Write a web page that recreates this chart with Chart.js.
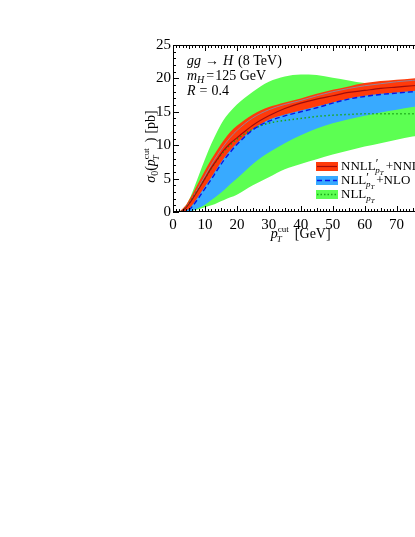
<!DOCTYPE html>
<html>
<head>
<meta charset="utf-8">
<script src="https://cdn.jsdelivr.net/npm/chart.js@4.4.1/dist/chart.umd.min.js"></script>
<style>
  html, body { margin: 0; padding: 0; background: #fff; overflow: hidden; }
  #wrap { position: absolute; left: 0; top: 0; width: 440px; height: 260px; }
</style>
</head>
<body>
<div id="wrap"><canvas id="sigmac" width="440" height="260"></canvas></div>
<script>
// data (pT cut in GeV, sigma_0 in pb)

var pTcut = [0, 2, 3, 4, 5, 6, 8, 10, 12, 14, 16, 18, 20, 25, 30, 35, 40, 45, 50, 55, 60, 65, 70, 75, 80];

var nnllCentral = [0, 0, 0.2, 0.6, 1.2, 1.9, 3.4, 5.0, 6.6, 8.0, 9.3, 10.3, 11.1, 13.0, 14.4, 15.5, 16.3, 16.9, 17.4, 17.9, 18.2, 18.5, 18.7, 18.9, 19.1];
var nnllUp = [0, 0.1, 0.5, 1.0, 1.8, 2.6, 4.4, 6.2, 7.9, 9.4, 10.8, 12.0, 12.9, 14.6, 15.7, 16.4, 17.0, 17.7, 18.3, 18.8, 19.3, 19.6, 19.8, 20.0, 20.2];
var nnllDown = [0, 0, 0, 0.2, 0.5, 1.0, 2.4, 3.8, 5.2, 6.7, 8.1, 9.3, 10.3, 12.4, 13.8, 14.6, 15.2, 15.8, 16.4, 17.0, 17.4, 17.7, 17.9, 18.1, 18.3];

var nllpCentral = [0, 0, 0, 0.1, 0.3, 0.8, 2.1, 3.5, 4.9, 6.4, 7.8, 9.0, 10.1, 12.3, 13.6, 14.4, 15.0, 15.6, 16.3, 16.9, 17.3, 17.6, 17.8, 18.0, 18.2];
var nllpUp = [0, 0, 0.2, 0.6, 1.3, 2.0, 3.7, 5.4, 7.1, 8.6, 10.0, 11.2, 12.2, 14.1, 15.3, 16.1, 16.7, 17.4, 18.0, 18.5, 18.9, 19.2, 19.5, 19.7, 19.9];
var nllpDown = [0, 0, 0, 0, 0.1, 0.2, 0.6, 1.1, 1.8, 2.5, 3.3, 4.2, 5.0, 7.2, 8.9, 10.3, 11.5, 12.5, 13.3, 13.9, 14.4, 14.9, 15.3, 15.7, 16.0];

var nllCentral = [0, 0, 0.2, 0.7, 1.3, 2.0, 3.5, 5.0, 6.5, 7.9, 9.1, 10.1, 10.9, 12.4, 13.3, 13.7, 14.0, 14.3, 14.5, 14.6, 14.7, 14.7, 14.7, 14.7, 14.7];
var nllUp = [0, 0, 0.3, 0.8, 1.8, 2.9, 5.4, 7.9, 10.2, 12.2, 13.9, 15.1, 16.1, 18.0, 19.5, 20.3, 20.6, 20.5, 20.1, 19.7, 19.3, 19.0, 18.8, 18.6, 18.5];
var nllDown = [0, 0, 0, 0, 0.1, 0.2, 0.4, 0.7, 1.0, 1.4, 1.8, 2.2, 2.6, 4.0, 5.2, 6.4, 7.2, 7.9, 8.6, 9.2, 9.8, 10.3, 10.8, 11.3, 11.6];

var xTicks = [0, 10, 20, 30, 40, 50, 60, 70, 80];
var yTicks = [0, 5, 10, 15, 20, 25];

var SERIF = '"Liberation Serif", "DejaVu Serif", serif';

function pts(vals) {
	return vals.map(function(v, i) { return {x: pTcut[i], y: v}; });
}

// draws a run of text pieces with their own font and vertical shift
function richWidth(ctx, parts) {
	var w = 0;
	parts.forEach(function(p) { ctx.font = p.f; w += ctx.measureText(p.t).width + (p.sp || 0); });
	return w;
}
function richText(ctx, x, y, parts) {
	parts.forEach(function(p) {
		ctx.font = p.f;
		ctx.fillText(p.t, x, y + (p.dy || 0));
		x += ctx.measureText(p.t).width + (p.sp || 0);
	});
	return x;
}

var rm = function(s) { return s + 'px ' + SERIF; };
var it = function(s) { return 'italic ' + s + 'px ' + SERIF; };

// frame, inward ticks, labels, legend
var decor = {
	id: 'decor',
	afterDraw: function(chart) {
		var ctx = chart.ctx, a = chart.chartArea;
		var xs = chart.scales.x, ys = chart.scales.y;
		ctx.save();
		ctx.strokeStyle = '#000';
		ctx.fillStyle = '#000';
		ctx.lineWidth = 1;
		ctx.strokeRect(a.left + 0.5, a.top + 0.5, a.right - a.left - 1, a.bottom - a.top - 1);

		ctx.beginPath();
		for (var gx = 0; gx <= 80; gx++) {
			var px = Math.round(xs.getPixelForValue(gx)) + 0.5;
			var len = gx % 10 === 0 ? 6 : (gx % 5 === 0 ? 4 : 3);
			ctx.moveTo(px, a.bottom); ctx.lineTo(px, a.bottom - len);
			ctx.moveTo(px, a.top); ctx.lineTo(px, a.top + len);
		}
		for (var gy = 0; gy <= 25; gy++) {
			var py = Math.round(ys.getPixelForValue(gy)) + 0.5;
			var l2 = gy % 5 === 0 ? 6 : 3;
			ctx.moveTo(a.left, py); ctx.lineTo(a.left + l2, py);
			ctx.moveTo(a.right, py); ctx.lineTo(a.right - l2, py);
		}
		ctx.stroke();

		ctx.textBaseline = 'alphabetic';
		ctx.textAlign = 'left';

		// process text
		var tx = a.left + 14, ty = a.top + 20;
		richText(ctx, tx, ty, [
			{t: 'gg', f: it(14), sp: 4},
			{t: '→', f: rm(14), sp: 4},
			{t: 'H', f: it(14), sp: 5},
			{t: '(8 TeV)', f: rm(14)}
		]);
		richText(ctx, tx, ty + 15, [
			{t: 'm', f: it(14)},
			{t: 'H', f: it(10), dy: 3, sp: 2},
			{t: '=', f: rm(14), sp: 1},
			{t: '125 GeV', f: rm(14)}
		]);
		richText(ctx, tx, ty + 30, [
			{t: 'R', f: it(14), sp: 4},
			{t: '=', f: rm(14), sp: 4},
			{t: '0.4', f: rm(14)}
		]);

		// x title
		var xt = [
			{t: 'p', f: it(14)},
			{t: 'cut', f: rm(9), dy: -6, sp: -12},
			{t: 'T', f: it(9), dy: 4, sp: 13},
			{t: '[GeV]', f: rm(14)}
		];
		var xw = richWidth(ctx, xt);
		richText(ctx, (a.left + a.right) / 2 - xw / 2, a.bottom + 26, xt);

		// y title
		ctx.save();
		ctx.translate(a.left - 18, (a.top + a.bottom) / 2 + 18);
		ctx.rotate(-Math.PI / 2);
		var yt = [
			{t: 'σ', f: it(14)},
			{t: '0', f: rm(10), dy: 3},
			{t: '(', f: rm(14)},
			{t: 'p', f: it(14)},
			{t: 'cut', f: rm(9), dy: -6, sp: -12},
			{t: 'T', f: it(9), dy: 4, sp: 13},
			{t: ')', f: rm(14), sp: 4},
			{t: '[pb]', f: rm(14)}
		];
		var yw = richWidth(ctx, yt);
		richText(ctx, -yw / 2, 0, yt);
		ctx.restore();

		// legend
		var lx = a.left + 143, rows = [a.top + 117, a.top + 131, a.top + 145];
		var bw = 22, bh = 9;
		var lg = [
			{fill: '#ff3a0a', line: '#a00c0c', dash: [], w: 1.2, txt: [
				{t: 'NNLL', f: rm(13)}, {t: '′', f: rm(12), dy: -3, sp: -3},
				{t: 'p', f: it(9), dy: 3}, {t: 'T', f: it(7), dy: 5, sp: 2}, {t: '+NNLO', f: rm(13)}]},
			{fill: '#38aaff', line: '#0a14e6', dash: [5, 3], w: 1.4, txt: [
				{t: 'NLL', f: rm(13)}, {t: '′', f: rm(12), dy: -3, sp: -3},
				{t: 'p', f: it(9), dy: 3}, {t: 'T', f: it(7), dy: 5, sp: 2}, {t: '+NLO', f: rm(13)}]},
			{fill: '#5cff52', line: '#1aa81a', dash: [1.5, 2], w: 1.5, txt: [
				{t: 'NLL', f: rm(13)}, {t: 'p', f: it(9), dy: 3}, {t: 'T', f: it(7), dy: 5}]}
		];
		lg.forEach(function(e, i) {
			var top = rows[i];
			ctx.fillStyle = e.fill;
			ctx.fillRect(lx, top, bw, bh);
			ctx.strokeStyle = e.line;
			ctx.lineWidth = e.w;
			ctx.setLineDash(e.dash);
			ctx.beginPath();
			ctx.moveTo(lx + 1, top + bh / 2);
			ctx.lineTo(lx + bw - 1, top + bh / 2);
			ctx.stroke();
			ctx.setLineDash([]);
			ctx.fillStyle = '#000';
			richText(ctx, lx + bw + 3, top + bh - 1, e.txt);
		});
		ctx.restore();
	}
};

new Chart("sigmac", {
	type: "line",
	data: {
		datasets: [
			{data: pts(nnllCentral), borderColor: "#a00c0c", borderWidth: 1.2, order: 0},
			{data: pts(nllpCentral), borderColor: "#0a14e6", borderWidth: 1.4, borderDash: [5, 3], order: 1},
			{data: pts(nllCentral), borderColor: "#1aa81a", borderWidth: 1.5, borderDash: [1.5, 2.5], order: 2},
			{data: pts(nllpUp), borderColor: "rgba(120,150,190,0.8)", borderWidth: 1, order: 3},
			{data: pts(nnllUp), borderWidth: 0, borderColor: "rgba(0,0,0,0)", backgroundColor: "#ff3a0a", fill: 5, order: 4},
			{data: pts(nnllDown), borderWidth: 0, borderColor: "rgba(0,0,0,0)", order: 5},
			{data: pts(nllpUp), borderWidth: 0, borderColor: "rgba(0,0,0,0)", backgroundColor: "#38aaff", fill: 7, order: 6},
			{data: pts(nllpDown), borderWidth: 0, borderColor: "rgba(0,0,0,0)", order: 7},
			{data: pts(nllUp), borderWidth: 0, borderColor: "rgba(0,0,0,0)", backgroundColor: "#5cff52", fill: 9, order: 8},
			{data: pts(nllDown), borderWidth: 0, borderColor: "rgba(0,0,0,0)", order: 9}
		]
	},
	options: {
		responsive: false,
		animation: false,
		devicePixelRatio: 1,
		layout: {padding: {left: 133, top: 45, right: 10, bottom: 13}},
		elements: {
			point: {radius: 0},
			line: {cubicInterpolationMode: "monotone"}
		},
		plugins: {
			legend: {display: false},
			tooltip: {enabled: false}
		},
		scales: {
			x: {
				type: "linear", min: 0, max: 80,
				afterFit: function(s) { s.height = 35; },
				afterBuildTicks: function(s) { s.ticks = xTicks.map(function(v) { return {value: v}; }); },
				grid: {display: false, drawTicks: false}, border: {display: false},
				ticks: {color: "#000", font: {family: SERIF, size: 15}, padding: 4, maxRotation: 0}
			},
			y: {
				min: 0, max: 25,
				afterFit: function(s) { s.width = 40; },
				afterBuildTicks: function(s) { s.ticks = yTicks.map(function(v) { return {value: v}; }); },
				grid: {display: false, drawTicks: false}, border: {display: false},
				ticks: {color: "#000", font: {family: SERIF, size: 15}, padding: 2}
			}
		}
	},
	plugins: [decor]
});
</script>
</body>
</html>
